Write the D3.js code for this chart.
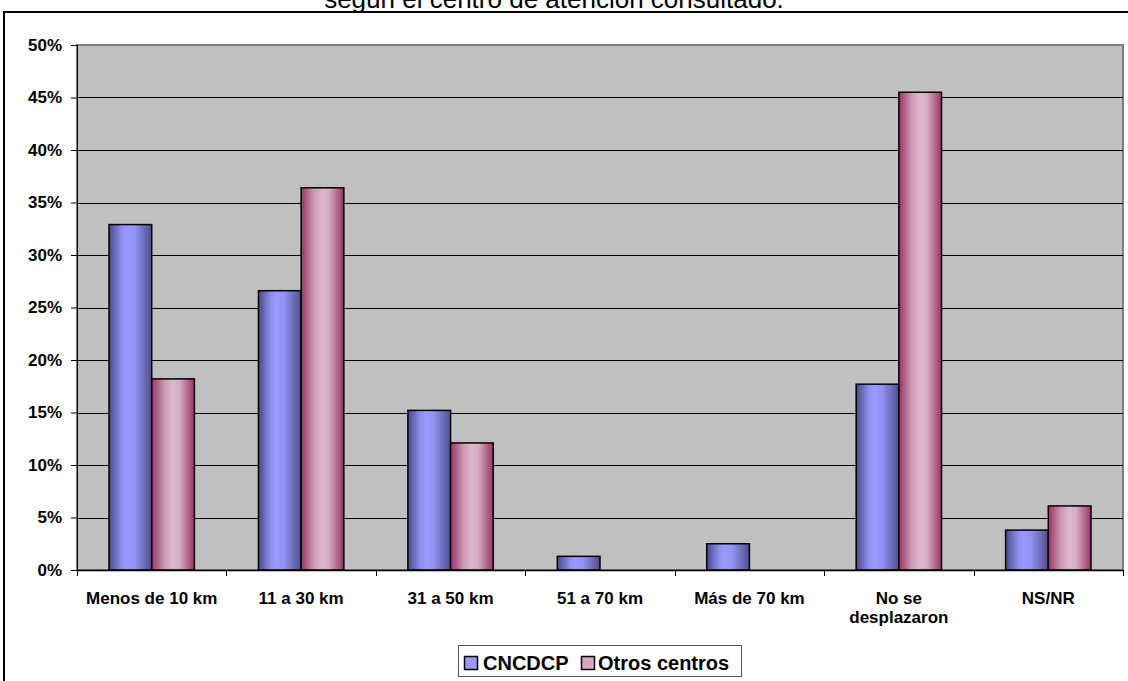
<!DOCTYPE html>
<html>
<head>
<meta charset="utf-8">
<script src="https://cdn.jsdelivr.net/npm/d3@7"></script>
<style>
  html, body { margin: 0; padding: 0; background: #ffffff; }
  svg { display: block; font-family: "Liberation Sans", Arial, sans-serif; }
</style>
</head>
<body>
<svg id="chart" width="1128" height="681"></svg>
<script>
// Distance travelled to the care centre, by centre consulted
const categories = ["Menos de 10 km", "11 a 30 km", "31 a 50 km", "51 a 70 km", "Más de 70 km", "No se|desplazaron", "NS/NR"];
const seriesNames = ["CNCDCP", "Otros centros"];
const cncdcp = [32.9, 26.6, 15.2, 1.3, 2.5, 17.7, 3.8];
const otros = [18.2, 36.4, 12.1, 0, 0, 45.5, 6.1];
const yTicks = [0, 5, 10, 15, 20, 25, 30, 35, 40, 45, 50];
const titleText = "según el centro de atención consultado.";

const svg = d3.select("#chart");
const margin = { left: 77, right: 1123, top: 45, bottom: 570 };

// Outer frame
svg.append("rect")
  .attr("x", 4).attr("y", 12)
  .attr("width", 1140).attr("height", 700)
  .attr("fill", "#ffffff").attr("stroke", "#000").attr("stroke-width", 2);

// Title (last line, sitting just above the frame)
svg.append("text")
  .attr("x", 554).attr("y", 8)
  .attr("text-anchor", "middle")
  .attr("font-size", 26)
  .attr("fill", "#000")
  .text(titleText);

const x = d3.scaleBand().domain(categories).range([margin.left, margin.right]);
const y = d3.scaleLinear().domain([0, 50]).range([margin.bottom, margin.top]);

// Gradients for the cylinder-like shading
const defs = svg.append("defs");
function grad(id, stops) {
  const g = defs.append("linearGradient").attr("id", id)
    .attr("x1", "0%").attr("x2", "100%").attr("y1", "0%").attr("y2", "0%");
  stops.forEach(([o, c]) => g.append("stop").attr("offset", o).attr("stop-color", c));
}
grad("gBlue", [[0, "#4a4a86"], [0.3, "#8f8ff2"], [0.42, "#9999ff"], [0.6, "#9292f4"], [1, "#4f4f8c"]]);
grad("gPink", [[0, "#993366"], [0.3, "#cc9ab4"], [0.5, "#ddb8cc"], [0.65, "#d7adc3"], [1, "#993366"]]);
const fills = ["url(#gBlue)", "url(#gPink)"];
const swatch = ["#9999ff", "#d9a8c0"];

// Plot area
svg.append("rect")
  .attr("x", margin.left).attr("y", margin.top)
  .attr("width", margin.right - margin.left).attr("height", margin.bottom - margin.top)
  .attr("fill", "#c0c0c0").attr("stroke", "#808080").attr("stroke-width", 2);

// Gridlines
svg.append("g").selectAll("line").data(yTicks.filter(d => d > 0 && d < 50)).join("line")
  .attr("x1", margin.left).attr("x2", margin.right)
  .attr("y1", d => Math.round(y(d)) + 0.5).attr("y2", d => Math.round(y(d)) + 0.5)
  .attr("stroke", "#000").attr("stroke-width", 1);

// Y axis
const yAxis = svg.append("g")
  .attr("transform", `translate(${margin.left},0)`)
  .call(d3.axisLeft(y).tickValues(yTicks).tickFormat(d => d + "%").tickSize(6).tickPadding(9));
yAxis.select(".domain").attr("stroke", "#000");
yAxis.selectAll("line").attr("stroke", "#000");
yAxis.selectAll("text")
  .attr("font-size", 17).attr("font-weight", "bold")
  .attr("font-family", "Liberation Sans, Arial, sans-serif").attr("fill", "#000");

// Bars
const w = x.bandwidth() / 3.5;
const gap = x.bandwidth() * 0.75 / 3.5;
const series = [cncdcp, otros];
series.forEach((vals, si) => {
  svg.append("g").selectAll("rect").data(vals.map((v, i) => ({ v, c: categories[i] })).filter(d => d.v > 0)).join("rect")
    .attr("x", d => x(d.c) + gap + si * w)
    .attr("y", d => y(d.v))
    .attr("width", w)
    .attr("height", d => y(0) - y(d.v))
    .attr("fill", fills[si])
    .attr("stroke", "#000").attr("stroke-width", 1.5);
});

// X axis
const xAxis = svg.append("g")
  .attr("transform", `translate(0,${margin.bottom})`);
xAxis.append("line")
  .attr("x1", margin.left).attr("x2", margin.right)
  .attr("y1", 0.5).attr("y2", 0.5).attr("stroke", "#000").attr("stroke-width", 1.5);
const tickPos = categories.map(c => x(c)).concat([margin.right]);
xAxis.selectAll("line.tick").data(tickPos).join("line").attr("class", "tick")
  .attr("x1", d => Math.round(d) + 0.5).attr("x2", d => Math.round(d) + 0.5)
  .attr("y1", 0).attr("y2", 6).attr("stroke", "#000");
const lbl = xAxis.selectAll("text").data(categories).join("text")
  .attr("x", d => x(d) + x.bandwidth() / 2)
  .attr("y", 34)
  .attr("text-anchor", "middle")
  .attr("font-size", 17).attr("font-weight", "bold").attr("fill", "#000");
lbl.each(function (d) {
  d3.select(this).selectAll("tspan").data(d.split("|")).join("tspan")
    .attr("x", x(d) + x.bandwidth() / 2)
    .attr("dy", (t, i) => i === 0 ? 0 : 19)
    .text(t => t);
});

// Legend
const lg = svg.append("g");
lg.append("rect").attr("x", 458.5).attr("y", 645.5).attr("width", 283).attr("height", 31)
  .attr("fill", "#fff").attr("stroke", "#555").attr("stroke-width", 1);
const legendX = [[464, 483], [581, 598]];
seriesNames.forEach((n, i) => {
  lg.append("rect").attr("x", legendX[i][0] + 0.5).attr("y", 656.5).attr("width", 13).attr("height", 13)
    .attr("fill", swatch[i]).attr("stroke", "#000").attr("stroke-width", 1.5);
  lg.append("text").attr("x", legendX[i][1]).attr("y", 669.5)
    .attr("font-size", 20).attr("font-weight", "bold").attr("fill", "#000").text(n);
});
</script>
</body>
</html>
